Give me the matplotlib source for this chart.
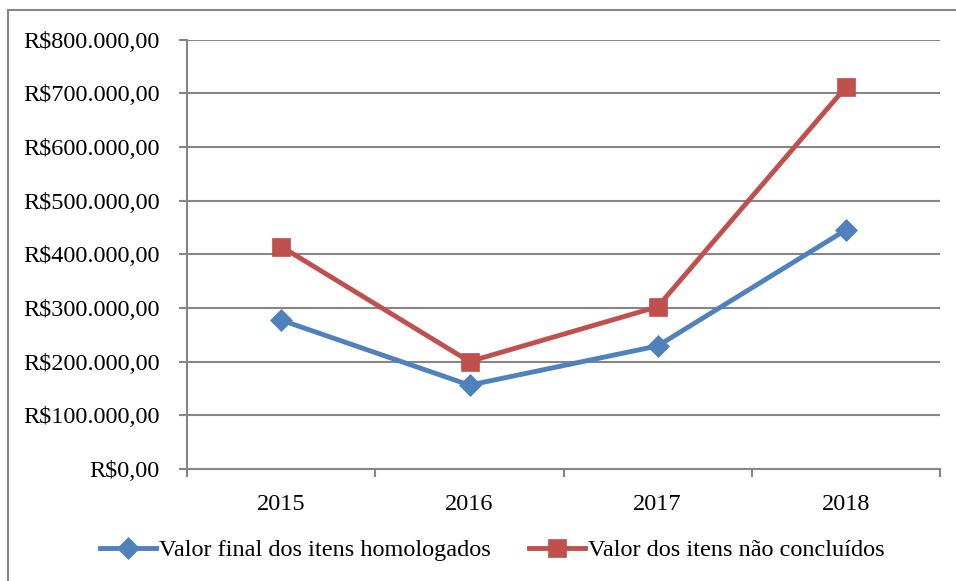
import numpy as np
import matplotlib.pyplot as plt
from matplotlib.patches import Rectangle

anos = ['2015', '2016', '2017', '2018']
homologados = [277000, 156000, 229000, 445000]
nao_concluidos = [414000, 200000, 302000, 711000]
nome_homologados = 'Valor final dos itens homologados'
nome_nao_concluidos = 'Valor dos itens não concluídos'
y_ticks = [0, 100000, 200000, 300000, 400000, 500000, 600000, 700000, 800000]

plt.rcParams['font.family'] = ['Liberation Serif', 'DejaVu Serif']
FS = 17.5
CINZA = '#868686'

def moeda(v):
    # formato brasileiro: R$800.000,00
    s = '{:,.2f}'.format(v).replace(',', 'X').replace('.', ',').replace('X', '.')
    return 'R$' + s

fig = plt.figure(figsize=(9.56, 5.81), dpi=100)
ax = fig.add_axes([0.196, 0.193, 0.787, 0.739])

# moldura externa do grafico
fig.patches.append(Rectangle((8/956, -0.05), 1.2, 1 - 10/581 + 0.05,
                             transform=fig.transFigure, fill=False,
                             edgecolor=CINZA, linewidth=1.5))

x = np.arange(len(anos))
ax.plot(x, homologados, color='#4F81BD', linewidth=3.5, marker='D',
        markersize=11.5, markeredgewidth=0.5, label=nome_homologados, zorder=3)
ax.plot(x, nao_concluidos, color='#C0504D', linewidth=3.5, marker='s',
        markersize=13.5, markeredgewidth=0.5, label=nome_nao_concluidos, zorder=3)

ax.set_xlim(-0.5, len(anos) - 0.5)
ax.set_ylim(0, 800000)
ax.set_yticks(y_ticks)
ax.set_yticklabels([moeda(v) for v in y_ticks], fontsize=FS)
ax.grid(axis='y', color=CINZA, linewidth=1.5)
ax.set_axisbelow(True)

ax.set_xticks(np.arange(-0.5, len(anos)), labels=[])
ax.set_xticks(x, minor=True)
ax.set_xticklabels(anos, minor=True, fontsize=FS)
ax.tick_params(axis='x', which='major', length=6, width=1.5, color=CINZA)
ax.tick_params(axis='x', which='minor', length=0, pad=18)
ax.tick_params(axis='y', length=6, width=1.5, color=CINZA, pad=14)

for lado in ['top', 'right']:
    ax.spines[lado].set_visible(False)
for lado in ['left', 'bottom']:
    ax.spines[lado].set_color(CINZA)
    ax.spines[lado].set_linewidth(1.5)

fig.legend(loc='center', bbox_to_anchor=(0.515, 1 - 550/581), ncol=2,
           frameon=False, fontsize=FS, handlelength=2.3, handletextpad=0.12,
           columnspacing=1.6)

fig.savefig('out.png', dpi=100)
